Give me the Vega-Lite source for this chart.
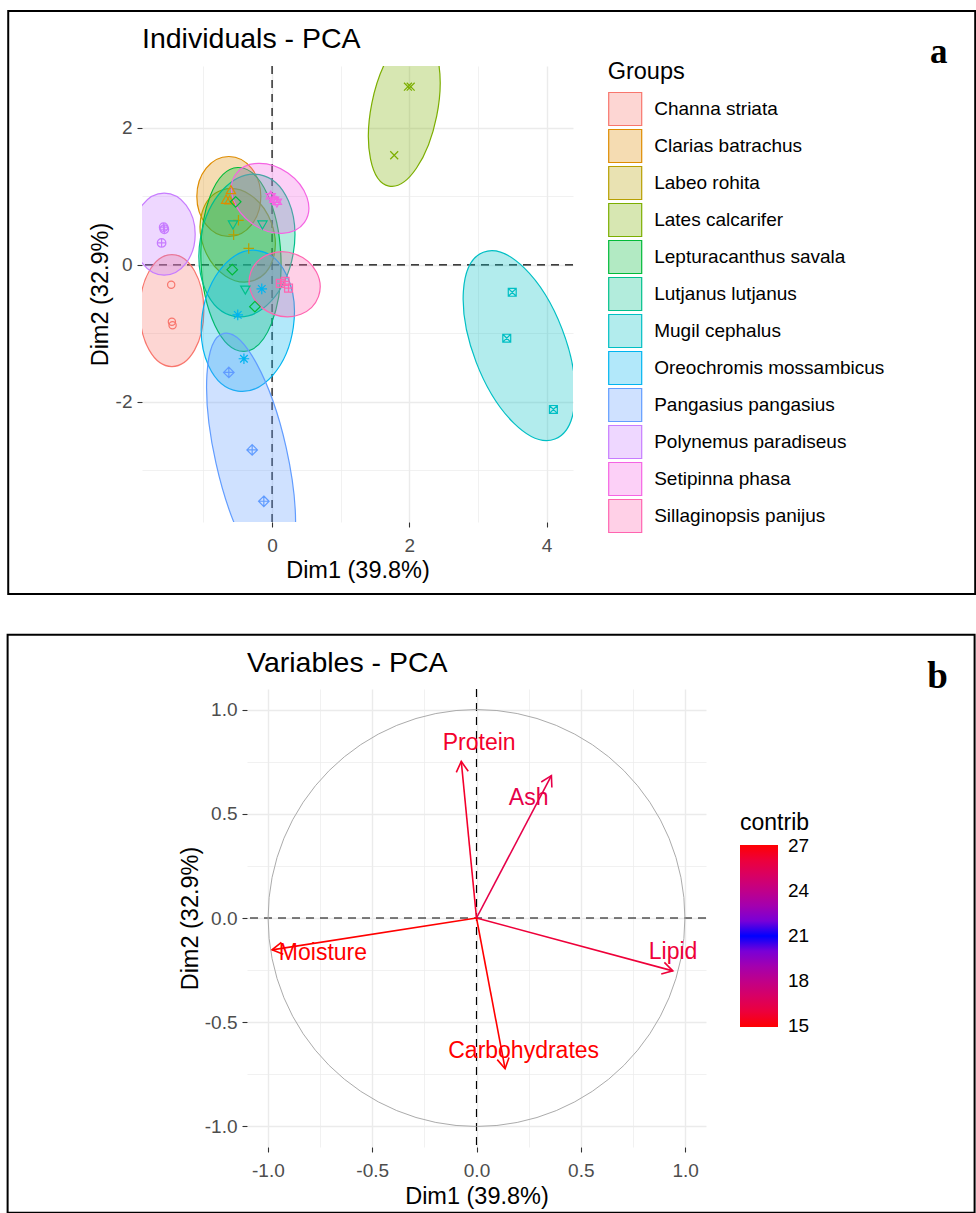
{
  "$schema": "https://vega.github.io/schema/vega-lite/v6.json",
  "padding": {"left": 6, "top": 10, "right": 0, "bottom": 0},
  "autosize": {"type": "pad"},
  "background": "white",
  "spacing": 37,
  "datasets": {
    "ind": [
      {"group": "Channa striata", "x": -1.47, "y": -0.29},
      {"group": "Channa striata", "x": -1.46, "y": -0.83},
      {"group": "Channa striata", "x": -1.45, "y": -0.88},
      {"group": "Clarias batrachus", "x": -0.67, "y": 0.94},
      {"group": "Clarias batrachus", "x": -0.60, "y": 1.08},
      {"group": "Clarias batrachus", "x": -0.62, "y": 0.93},
      {"group": "Labeo rohita", "x": -0.56, "y": 0.44},
      {"group": "Labeo rohita", "x": -0.34, "y": 0.24},
      {"group": "Labeo rohita", "x": -0.49, "y": 0.65},
      {"group": "Lates calcarifer", "x": 1.78, "y": 1.60},
      {"group": "Lates calcarifer", "x": 1.98, "y": 2.60},
      {"group": "Lates calcarifer", "x": 2.02, "y": 2.60},
      {"group": "Lepturacanthus savala", "x": -0.58, "y": -0.07},
      {"group": "Lepturacanthus savala", "x": -0.25, "y": -0.61},
      {"group": "Lepturacanthus savala", "x": -0.53, "y": 0.92},
      {"group": "Lutjanus lutjanus", "x": -0.57, "y": 0.60},
      {"group": "Lutjanus lutjanus", "x": -0.14, "y": 0.60},
      {"group": "Lutjanus lutjanus", "x": -0.39, "y": -0.35},
      {"group": "Mugil cephalus", "x": 3.50, "y": -0.40},
      {"group": "Mugil cephalus", "x": 3.42, "y": -1.07},
      {"group": "Mugil cephalus", "x": 4.10, "y": -2.11},
      {"group": "Oreochromis mossambicus", "x": -0.50, "y": -0.73},
      {"group": "Oreochromis mossambicus", "x": -0.15, "y": -0.35},
      {"group": "Oreochromis mossambicus", "x": -0.41, "y": -1.37},
      {"group": "Pangasius pangasius", "x": -0.63, "y": -1.57},
      {"group": "Pangasius pangasius", "x": -0.29, "y": -2.70},
      {"group": "Pangasius pangasius", "x": -0.12, "y": -3.45},
      {"group": "Polynemus paradiseus", "x": -1.58, "y": 0.55},
      {"group": "Polynemus paradiseus", "x": -1.57, "y": 0.52},
      {"group": "Polynemus paradiseus", "x": -1.61, "y": 0.32},
      {"group": "Setipinna phasa", "x": -0.02, "y": 1.00},
      {"group": "Setipinna phasa", "x": 0.03, "y": 0.95},
      {"group": "Setipinna phasa", "x": 0.07, "y": 0.92},
      {"group": "Sillaginopsis panijus", "x": 0.12, "y": -0.27},
      {"group": "Sillaginopsis panijus", "x": 0.24, "y": -0.34},
      {"group": "Sillaginopsis panijus", "x": 0.19, "y": -0.24}
    ],
    "var": [
      {"variable": "Protein", "x": -0.073, "y": 0.752, "label_x": 0.013, "label_y": 0.84, "contrib": 15.6},
      {"variable": "Ash", "x": 0.359, "y": 0.684, "label_x": 0.25, "label_y": 0.575, "contrib": 16.3},
      {"variable": "Moisture", "x": -0.98, "y": -0.153, "label_x": -0.736, "label_y": -0.166, "contrib": 27.05},
      {"variable": "Lipid", "x": 0.941, "y": -0.254, "label_x": 0.942, "label_y": -0.161, "contrib": 26.1},
      {"variable": "Carbohydrates", "x": 0.137, "y": -0.724, "label_x": 0.226, "label_y": -0.641, "contrib": 14.95}
    ]
  },
  "config": {
    "font": "Liberation Sans",
    "view": {"stroke": null},
    "axis": {"domain": false, "gridColor": "#EBEBEB", "tickColor": "#333333", "tickSize": 5, "tickWidth": 1.1, "labelColor": "#4D4D4D", "labelFontSize": 19, "titleFontSize": 23.5, "titleFontWeight": "normal", "titleColor": "#000000", "labelFlush": false, "labelOverlap": false},
    "legend": {"titleFontWeight": "normal", "titleColor": "#000000", "labelColor": "#000000", "padding": 0},
    "title": {"fontWeight": "normal", "color": "#000000"}
  },
  "vconcat": [
    {
      "width": 431,
      "height": 456,
      "title": {"text": "Individuals - PCA", "anchor": "start", "frame": "group", "fontSize": 28.5, "offset": -66.8, "baseline": "alphabetic"},
      "resolve": {"scale": {"shape": "independent"}},
      "layer": [
        {
          "data": {"values": [{}]},
          "mark": {"type": "rect", "filled": false, "stroke": "black", "strokeWidth": 2},
          "encoding": {"x": {"datum": -3.845}, "x2": {"datum": 10.247}, "y": {"datum": 3.704}, "y2": {"datum": -4.805}}
        },
        {
          "data": {"values": [{}]},
          "mark": {"type": "rule", "strokeDash": [8, 6], "color": "black", "strokeWidth": 1.2},
          "encoding": {"x": {"datum": 0}}
        },
        {
          "data": {"values": [{}]},
          "mark": {"type": "rule", "strokeDash": [8, 6], "color": "black", "strokeWidth": 1.2},
          "encoding": {"y": {"datum": 0}}
        },
        {
          "data": {"name": "ind"},
          "transform": [{"aggregate": [{"op": "mean", "field": "x", "as": "x"}, {"op": "mean", "field": "y", "as": "y"}], "groupby": ["group"]}],
          "mark": {"type": "point", "filled": true, "size": 4, "opacity": 1, "strokeWidth": 1.2, "clip": true},
          "encoding": {
            "x": {"field": "x", "type": "quantitative"},
            "y": {"field": "y", "type": "quantitative"},
            "fill": {"field": "group", "type": "nominal", "scale": {"range": ["rgba(248,118,109,0.3)", "rgba(222,140,0,0.3)", "rgba(183,159,0,0.3)", "rgba(124,174,0,0.3)", "rgba(0,186,56,0.3)", "rgba(0,192,139,0.3)", "rgba(0,191,196,0.3)", "rgba(0,180,240,0.3)", "rgba(97,156,255,0.3)", "rgba(199,124,255,0.3)", "rgba(245,100,227,0.3)", "rgba(255,100,176,0.3)"]},
              "legend": {"title": "Groups", "orient": "none", "legendX": 465.7, "legendY": -6, "padding": 0, "symbolType": "square", "symbolSize": 1089, "symbolStrokeWidth": 1.2, "rowPadding": -2, "titlePadding": 8, "titleFontSize": 23.5, "labelFontSize": 19, "labelOffset": 11.5, "labelLimit": 400}},
            "stroke": {"field": "group", "type": "nominal", "scale": {"range": ["#F8766D", "#DE8C00", "#B79F00", "#7CAE00", "#00BA38", "#00C08B", "#00BFC4", "#00B4F0", "#619CFF", "#C77CFF", "#F564E3", "#FF64B0"]},
              "legend": {"title": "Groups", "orient": "none", "legendX": 465.7, "legendY": -6, "padding": 0, "symbolType": "square", "symbolSize": 1089, "symbolStrokeWidth": 1.2, "rowPadding": -2, "titlePadding": 8, "titleFontSize": 23.5, "labelFontSize": 19, "labelOffset": 11.5, "labelLimit": 400}},
            "shape": {"field": "group", "type": "nominal", "scale": {"domain": ["Channa striata", "Clarias batrachus", "Labeo rohita", "Lates calcarifer", "Lepturacanthus savala", "Lutjanus lutjanus", "Mugil cephalus", "Oreochromis mossambicus", "Pangasius pangasius", "Polynemus paradiseus", "Setipinna phasa", "Sillaginopsis panijus"], "range": [
              "M0,56C-17.7,56 -32,30.9 -32,0C-32,-30.9 -17.7,-56 0,-56C17.7,-56 32,-30.9 32,0C32,30.9 17.7,56 0,56Z",
              "M0,39C-17.7,39 -32,21.1 -32,-1C-32,-23.1 -17.7,-41 0,-41C17.7,-41 32,-23.1 32,-1C32,21.1 17.7,39 0,39Z",
              "M13.8,45.9C-4.9,52.7 -27.3,38 -36.4,13.1C-45.5,-11.8 -37.7,-37.5 -19,-44.3C-0.3,-51.1 22.1,-36.4 31.2,-11.5C40.3,13.4 32.5,39.1 13.8,45.9Z",
              "M-15.3,76.5C-33.2,72.9 -40.9,35.8 -32.4,-6.5C-24,-48.8 -2.6,-80.1 15.3,-76.5C33.2,-72.9 40.9,-35.8 32.4,6.5C24,48.8 2.6,80.1 -15.3,76.5Z",
              "M3.2,91.9C-18.9,92.7 -38.2,52.2 -40,1.4C-41.8,-49.4 -25.3,-91.1 -3.2,-91.9C18.9,-92.7 38.2,-52.2 40,-1.4C41.8,49.4 25.3,91.1 3.2,91.9Z",
              "M-12.5,70.9C-38.1,66.4 -53.2,31 -46.3,-8.2C-39.4,-47.4 -13.1,-75.4 12.5,-70.9C38.1,-66.4 53.2,-31 46.3,8.2C39.4,47.4 13.1,75.4 -12.5,70.9Z",
              "M30.8,92.4C7.1,101.5 -28.2,67.1 -48,15.5C-67.8,-36.1 -64.6,-85.3 -40.8,-94.4C-17.1,-103.5 18.2,-69.1 38,-17.5C57.8,34.1 54.6,83.3 30.8,92.4Z",
              "M-9.9,70.3C-35,66.8 -51,32.4 -45.5,-6.4C-40,-45.2 -15.2,-73.8 9.9,-70.3C35,-66.8 51,-32.4 45.5,6.4C40,45.2 15.2,73.8 -9.9,70.3Z",
              "M30.1,136.2C10.7,140.5 -17.2,89.4 -32.3,22C-47.4,-45.4 -43.9,-103.5 -24.5,-107.8C-5.1,-112.1 22.8,-61 37.9,6.4C53,73.8 49.5,131.9 30.1,136.2Z",
              "M1,42C-16.1,42 -30,23.6 -30,1C-30,-21.6 -16.1,-40 1,-40C18.1,-40 32,-21.6 32,1C32,23.6 18.1,42 1,42Z",
              "M30.6,23.1C20.8,37.1 -2.6,37.7 -21.6,24.4C-40.6,11.1 -48,-11.1 -38.2,-25.1C-28.4,-39.1 -5,-39.7 14,-26.4C33,-13.1 40.4,9.1 30.6,23.1Z",
              "M33.8,12.3C27.8,28.9 7.8,36.9 -10.9,30.1C-29.6,23.3 -39.8,4.3 -33.8,-12.3C-27.8,-28.9 -7.8,-36.9 10.9,-30.1C29.6,-23.3 39.8,-4.3 33.8,12.3Z"
            ]}, "legend": null}
          }
        },
        {
          "data": {"name": "ind"},
          "mark": {"type": "point", "filled": false, "size": 1089, "opacity": 1, "strokeWidth": 1.2, "clip": true},
          "encoding": {
            "x": {"field": "x", "type": "quantitative", "scale": {"domain": [-1.8955, 4.3855], "nice": false, "zero": false},
              "axis": {"title": "Dim1 (39.8%)", "titleY": 55.6, "titleBaseline": "alphabetic", "values": [-1, 0, 1, 2, 3, 4],
                "labelExpr": "datum.value % 2 !== 0 ? '' : (datum.value < 0 ? '-' + (-datum.value) : '' + datum.value)",
                "labelPadding": 9, "grid": true,
                "tickOpacity": {"condition": {"test": "datum.value % 2 !== 0", "value": 0}, "value": 1},
                "gridWidth": {"condition": {"test": "datum.value % 2 !== 0", "value": 0.7}, "value": 1.4}}},
            "y": {"field": "y", "type": "quantitative", "scale": {"domain": [-3.7525, 2.9025], "nice": false, "zero": false},
              "axis": {"title": "Dim2 (32.9%)", "titleX": -35, "titleBaseline": "alphabetic", "values": [-3, -2, -1, 0, 1, 2],
                "labelExpr": "datum.value % 2 !== 0 ? '' : (datum.value < 0 ? '-' + (-datum.value) : '' + datum.value)",
                "labelPadding": 5, "grid": true,
                "tickOpacity": {"condition": {"test": "datum.value % 2 !== 0", "value": 0}, "value": 1},
                "gridWidth": {"condition": {"test": "datum.value % 2 !== 0", "value": 0.7}, "value": 1.4}}},
            "color": {"field": "group", "type": "nominal", "scale": {"domain": ["Channa striata", "Clarias batrachus", "Labeo rohita", "Lates calcarifer", "Lepturacanthus savala", "Lutjanus lutjanus", "Mugil cephalus", "Oreochromis mossambicus", "Pangasius pangasius", "Polynemus paradiseus", "Setipinna phasa", "Sillaginopsis panijus"], "range": ["#F8766D", "#DE8C00", "#B79F00", "#7CAE00", "#00BA38", "#00C08B", "#00BFC4", "#00B4F0", "#619CFF", "#C77CFF", "#F564E3", "#FF64B0"]}, "legend": null},
            "shape": {"field": "group", "type": "nominal", "scale": {"domain": ["Channa striata", "Clarias batrachus", "Labeo rohita", "Lates calcarifer", "Lepturacanthus savala", "Lutjanus lutjanus", "Mugil cephalus", "Oreochromis mossambicus", "Pangasius pangasius", "Polynemus paradiseus", "Setipinna phasa", "Sillaginopsis panijus"], "range": [
              "M0.22,0C0.22,0.122 0.122,0.22 0,0.22C-0.122,0.22 -0.22,0.122 -0.22,0C-0.22,-0.122 -0.122,-0.22 0,-0.22C0.122,-0.22 0.22,-0.122 0.22,0Z",
              "M0,-0.32L0.28,0.17L-0.28,0.17Z",
              "M-0.32,0L0.32,0M0,-0.32L0,0.32",
              "M-0.24,-0.24L0.24,0.24M-0.24,0.24L0.24,-0.24",
              "M0,-0.32L0.32,0L0,0.32L-0.32,0Z",
              "M0,0.32L0.28,-0.17L-0.28,-0.17Z",
              "M-0.24,-0.24L0.24,-0.24L0.24,0.24L-0.24,0.24ZM-0.24,-0.24L0.24,0.24M-0.24,0.24L0.24,-0.24",
              "M-0.32,0L0.32,0M0,-0.32L0,0.32M-0.23,-0.23L0.23,0.23M-0.23,0.23L0.23,-0.23",
              "M0,-0.32L0.32,0L0,0.32L-0.32,0ZM-0.32,0L0.32,0M0,-0.32L0,0.32",
              "M0.26,0C0.26,0.144 0.144,0.26 0,0.26C-0.144,0.26 -0.26,0.144 -0.26,0C-0.26,-0.144 -0.144,-0.26 0,-0.26C0.144,-0.26 0.26,-0.144 0.26,0ZM-0.26,0L0.26,0M0,-0.26L0,0.26",
              "M0,-0.32L0.28,0.16L-0.28,0.16ZM0,0.32L0.28,-0.16L-0.28,-0.16Z",
              "M-0.24,-0.24L0.24,-0.24L0.24,0.24L-0.24,0.24ZM-0.24,0L0.24,0M0,-0.24L0,0.24"
            ]}, "legend": null}
          }
        },
        {
          "data": {"values": [{}]},
          "mark": {"type": "text", "text": "a", "font": "Liberation Serif", "fontWeight": "bold", "fontSize": 35, "align": "center", "baseline": "alphabetic"},
          "encoding": {"x": {"datum": 9.715}, "y": {"datum": 2.94}}
        }
      ]
    },
    {
      "bounds": "flush",
      "spacing": 0,
      "hconcat": [
        {
          "width": 105,
          "height": 10,
          "data": {"values": []},
          "mark": "point"
        },
        {
          "width": 459,
          "height": 458,
          "title": {"text": "Variables - PCA", "anchor": "start", "frame": "group", "fontSize": 28.5, "offset": -67.2, "baseline": "alphabetic"},
          "layer": [
            {
              "data": {"values": [{}]},
              "mark": {"type": "rect", "filled": false, "stroke": "black", "strokeWidth": 2},
              "encoding": {"x": {"datum": -2.2474}, "x2": {"datum": 2.3874}, "y": {"datum": 1.3608}, "y2": {"datum": -1.4156}}
            },
            {
              "data": {"values": [{}]},
              "mark": {"type": "rule", "strokeDash": [8, 6], "color": "black", "strokeWidth": 1.2},
              "encoding": {"x": {"datum": 0}}
            },
            {
              "data": {"values": [{}]},
              "mark": {"type": "rule", "strokeDash": [8, 6], "color": "black", "strokeWidth": 1.2},
              "encoding": {"y": {"datum": 0}}
            },
            {
              "data": {"values": [{}]},
              "mark": {"type": "point", "shape": "circle", "size": 173722, "filled": false, "opacity": 1, "stroke": "#ABABAB", "strokeWidth": 1},
              "encoding": {"x": {"datum": 0}, "y": {"datum": 0}}
            },
            {
              "data": {"name": "var"},
              "mark": {"type": "rule", "strokeWidth": 1.6},
              "encoding": {
                "x": {"field": "x", "type": "quantitative", "scale": {"domain": [-1.1, 1.1], "nice": false, "zero": false},
                  "axis": {"title": "Dim1 (39.8%)", "titleY": 56.4, "titleBaseline": "alphabetic", "values": [-1, -0.75, -0.5, -0.25, 0, 0.25, 0.5, 0.75, 1],
                    "labelExpr": "(datum.value * 4) % 2 !== 0 ? '' : (datum.value < 0 ? '-' + format(-datum.value, '.1f') : format(datum.value, '.1f'))",
                    "labelPadding": 9, "grid": true,
                    "tickOpacity": {"condition": {"test": "(datum.value * 4) % 2 !== 0", "value": 0}, "value": 1},
                    "gridWidth": {"condition": {"test": "(datum.value * 4) % 2 !== 0", "value": 0.7}, "value": 1.4}}},
                "y": {"field": "y", "type": "quantitative", "scale": {"domain": [-1.1, 1.1], "nice": false, "zero": false},
                  "axis": {"title": "Dim2 (32.9%)", "titleX": -50, "titleBaseline": "alphabetic", "values": [-1, -0.75, -0.5, -0.25, 0, 0.25, 0.5, 0.75, 1],
                    "labelExpr": "(datum.value * 4) % 2 !== 0 ? '' : (datum.value < 0 ? '-' + format(-datum.value, '.1f') : format(datum.value, '.1f'))",
                    "labelPadding": 5, "grid": true,
                    "tickOpacity": {"condition": {"test": "(datum.value * 4) % 2 !== 0", "value": 0}, "value": 1},
                    "gridWidth": {"condition": {"test": "(datum.value * 4) % 2 !== 0", "value": 0.7}, "value": 1.4}}},
                "x2": {"datum": 0},
                "y2": {"datum": 0},
                "color": {"field": "contrib", "type": "quantitative", "title": "contrib",
                  "scale": {"domain": [14.95, 21, 27.05], "range": ["#FF0000", "#0000FF", "#FF0000"], "interpolate": "lab"},
                  "legend": {"type": "gradient", "orient": "none", "legendX": 598, "legendY": 123, "direction": "vertical", "gradientLength": 182, "gradientThickness": 38, "titleFontSize": 23, "titlePadding": 10, "labelFontSize": 19, "labelOffset": 10, "labelBaseline": "middle", "values": [15, 18, 21, 24, 27], "padding": 0, "gradientStrokeWidth": 0}}
              }
            },
            {
              "data": {"name": "var"},
              "mark": {"type": "point", "filled": false, "size": 576, "opacity": 1, "strokeWidth": 1.6},
              "encoding": {
                "x": {"field": "x", "type": "quantitative"},
                "y": {"field": "y", "type": "quantitative"},
                "stroke": {"field": "contrib", "type": "quantitative", "scale": {"domainMid": 21, "range": ["#FF0000", "#0000FF", "#FF0000"], "interpolate": "lab"}, "legend": null},
                "shape": {"field": "variable", "type": "nominal", "scale": {"domain": ["Protein", "Ash", "Moisture", "Lipid", "Carbohydrates"], "range": [
                  "M-0.414,0.911L0,0L0.581,0.814",
                  "M-0.846,0.534L0,0L0.039,0.999",
                  "M0.933,0.361L0,0L0.779,-0.627",
                  "M-0.706,-0.708L0,0L-0.966,0.258",
                  "M0.330,-0.944L0,0L-0.653,-0.758"
                ]}, "legend": null}
              }
            },
            {
              "data": {"name": "var"},
              "mark": {"type": "text", "fontSize": 23, "align": "center", "baseline": "middle"},
              "encoding": {
                "x": {"field": "label_x", "type": "quantitative"},
                "y": {"field": "label_y", "type": "quantitative"},
                "text": {"field": "variable", "type": "nominal"},
                "fill": {"field": "contrib", "type": "quantitative", "scale": {"domainMid": 21, "range": ["#FF0000", "#0000FF", "#FF0000"], "interpolate": "lab"}, "legend": null}
              }
            },
            {
              "data": {"values": [{}]},
              "mark": {"type": "text", "text": "b", "font": "Liberation Serif", "fontWeight": "bold", "fontSize": 37, "align": "center", "baseline": "alphabetic"},
              "encoding": {"x": {"datum": 2.21}, "y": {"datum": 1.103}}
            }
          ]
        }
      ]
    }
  ]
}
